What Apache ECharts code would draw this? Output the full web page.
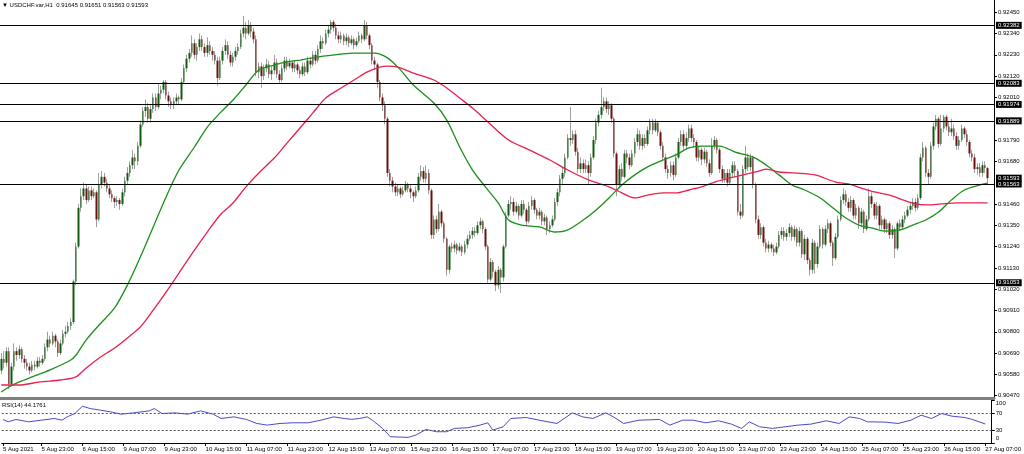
<!DOCTYPE html>
<html><head><meta charset="utf-8">
<script src="https://cdn.jsdelivr.net/npm/echarts@6.0.0/dist/echarts.min.js"></script>
<style>html,body{margin:0;padding:0;background:#fff}#c{width:1024px;height:454px}</style>
</head><body><div id="c"></div>
<script>
const headerText = '\u25BC USDCHF.var,H1  0.91645 0.91651 0.91563 0.91593';
const rsiTitle = 'RSI(14) 44.1761';
const barCount = 386;
const tickBars = [0,15,31,47,63,79,95,111,127,143,159,175,191,207,223,239,255,271,287,303,319,335,351,367,383];
const tickLabels = ['5 Aug 2021','5 Aug 23:00','6 Aug 15:00','9 Aug 07:00','9 Aug 23:00','10 Aug 15:00','11 Aug 07:00','11 Aug 23:00','12 Aug 15:00','13 Aug 07:00','15 Aug 23:00','16 Aug 15:00','17 Aug 07:00','17 Aug 23:00','18 Aug 15:00','19 Aug 07:00','19 Aug 23:00','20 Aug 15:00','23 Aug 07:00','23 Aug 23:00','24 Aug 15:00','25 Aug 07:00','25 Aug 23:00','26 Aug 15:00','27 Aug 07:00'];
const priceTicks = [0.90470,0.90580,0.90690,0.90800,0.90910,0.91020,0.91130,0.91240,0.91350,0.91460,0.91680,0.91790,0.92010,0.92120,0.92230,0.92340,0.92450];
const levels = [0.92382,0.92083,0.91974,0.91889,0.91563,0.91053];
const bidPrice = 0.91593;
const priceMin = 0.90458, priceMax = 0.92513;
// [open, close, low, high] in units of 0.00001
const candles = [
[90600,90660,90580,90690],[90660,90640,90610,90700],[90640,90700,90620,90720],[90700,90530,90505,90720],[90530,90620,90520,90640],
[90620,90700,90600,90740],[90700,90680,90650,90720],[90680,90710,90660,90730],[90710,90660,90640,90720],[90660,90640,90610,90680],
[90640,90620,90600,90660],[90620,90600,90580,90640],[90600,90630,90590,90650],[90630,90620,90600,90650],[90620,90650,90610,90670],
[90650,90640,90620,90670],[90640,90660,90630,90680],[90660,90720,90650,90740],[90720,90760,90700,90800],[90760,90740,90720,90780],
[90740,90780,90730,90800],[90780,90750,90720,90790],[90750,90690,90670,90760],[90690,90740,90680,90760],[90740,90790,90730,90810],
[90790,90800,90770,90830],[90800,90830,90790,90850],[90830,90850,90810,90870],[90850,91060,90840,91070],[91060,91240,91040,91260],
[91240,91440,91230,91460],[91440,91500,91420,91540],[91500,91540,91480,91570],[91540,91480,91460,91560],[91480,91530,91470,91550],
[91530,91500,91480,91550],[91500,91520,91490,91540],[91520,91380,91340,91530],[91380,91560,91370,91620],[91560,91600,91540,91630],
[91600,91570,91550,91620],[91570,91540,91520,91590],[91540,91510,91490,91560],[91510,91490,91470,91530],[91490,91470,91440,91500],
[91470,91480,91450,91500],[91480,91460,91430,91490],[91460,91520,91450,91540],[91520,91580,91500,91600],[91580,91620,91560,91650],
[91620,91660,91600,91680],[91660,91700,91640,91740],[91700,91680,91640,91720],[91680,91760,91660,91780],[91760,91870,91750,91890],
[91870,91940,91860,91960],[91940,91960,91910,92000],[91960,91900,91880,91980],[91900,91950,91880,91970],[91950,92010,91930,92030],
[92010,91960,91940,92030],[91960,92030,91950,92080],[92030,92050,92000,92070],[92050,92090,92030,92100],[92090,92020,92000,92100],
[92020,91990,91960,92040],[91990,91970,91950,92010],[91970,91990,91950,92010],[91990,92010,91970,92030],[92010,92000,91970,92020],
[92000,92090,91990,92110],[92090,92160,92080,92180],[92160,92210,92140,92230],[92210,92240,92190,92260],[92240,92290,92220,92330],
[92290,92230,92210,92310],[92230,92270,92200,92290],[92270,92310,92250,92340],[92310,92270,92250,92330],[92270,92240,92220,92290],
[92240,92280,92220,92320],[92280,92250,92230,92300],[92250,92230,92200,92270],[92230,92200,92180,92250],[92200,92110,92070,92220],
[92110,92200,92100,92220],[92200,92250,92180,92270],[92250,92280,92230,92310],[92280,92230,92210,92300],[92230,92190,92170,92250],
[92190,92220,92170,92240],[92220,92250,92200,92270],[92250,92270,92230,92290],[92270,92340,92260,92360],[92340,92370,92320,92430],
[92370,92340,92310,92400],[92340,92380,92330,92410],[92380,92350,92320,92400],[92350,92310,92290,92370],[92310,92140,92120,92330],
[92140,92170,92110,92190],[92170,92120,92060,92190],[92120,92160,92100,92180],[92160,92180,92140,92210],[92180,92130,92110,92200],
[92130,92150,92100,92170],[92150,92190,92130,92230],[92190,92130,92110,92210],[92130,92100,92080,92150],[92100,92160,92090,92180],
[92160,92200,92140,92220],[92200,92170,92150,92220],[92170,92190,92160,92210],[92190,92160,92140,92200],[92160,92180,92140,92200],
[92180,92150,92130,92190],[92150,92130,92110,92170],[92130,92170,92120,92190],[92170,92140,92120,92190],[92140,92200,92130,92220],
[92200,92180,92160,92220],[92180,92230,92170,92250],[92230,92200,92180,92250],[92200,92260,92190,92280],[92260,92300,92240,92330],
[92300,92290,92260,92320],[92290,92340,92280,92360],[92340,92360,92320,92380],[92360,92400,92340,92410],[92400,92370,92350,92410],
[92370,92330,92310,92390],[92330,92310,92290,92350],[92310,92330,92290,92350],[92330,92300,92280,92340],[92300,92320,92280,92340],
[92320,92290,92270,92330],[92290,92310,92280,92330],[92310,92280,92260,92320],[92280,92300,92270,92320],[92300,92330,92290,92350],
[92330,92310,92290,92340],[92310,92380,92300,92410],[92380,92330,92310,92400],[92330,92280,92260,92340],[92280,92200,92180,92290],
[92200,92180,92150,92220],[92180,92090,92060,92190],[92090,92010,91990,92100],[92010,91970,91940,92030],[91970,91900,91870,91990],
[91900,91620,91600,91910],[91620,91580,91550,91640],[91580,91550,91520,91600],[91550,91520,91500,91570],[91520,91540,91500,91560],
[91540,91510,91490,91550],[91510,91530,91500,91550],[91530,91560,91520,91580],[91560,91540,91520,91570],[91540,91520,91490,91560],
[91520,91500,91470,91530],[91500,91530,91490,91550],[91530,91600,91520,91620],[91600,91630,91580,91660],[91630,91590,91570,91650],
[91590,91620,91570,91660],[91620,91530,91510,91640],[91530,91300,91280,91540],[91300,91380,91280,91400],[91380,91330,91310,91400],
[91330,91420,91320,91460],[91420,91360,91340,91430],[91360,91280,91260,91370],[91280,91120,91090,91290],[91120,91240,91100,91250],
[91240,91230,91210,91260],[91230,91250,91210,91270],[91250,91220,91200,91260],[91220,91240,91210,91260],[91240,91210,91190,91250],
[91210,91250,91200,91270],[91250,91280,91230,91300],[91280,91300,91270,91320],[91300,91320,91280,91340],[91320,91310,91290,91340],
[91310,91350,91300,91370],[91350,91370,91330,91390],[91370,91330,91310,91380],[91330,91240,91220,91340],[91240,91070,91050,91250],
[91070,91160,91060,91180],[91160,91110,91080,91170],[91110,91040,91010,91120],[91040,91120,91020,91140],[91120,91080,91000,91130],
[91080,91240,91060,91250],[91240,91400,91230,91420],[91400,91460,91390,91480],[91460,91470,91430,91500],[91470,91420,91400,91490],
[91420,91450,91410,91470],[91450,91400,91380,91460],[91400,91460,91390,91480],[91460,91430,91410,91480],[91430,91370,91350,91440],
[91370,91450,91360,91470],[91450,91480,91430,91500],[91480,91430,91410,91490],[91430,91400,91380,91440],[91400,91420,91380,91440],
[91420,91370,91350,91430],[91370,91390,91350,91410],[91390,91330,91300,91400],[91330,91350,91310,91370],[91350,91380,91340,91400],
[91380,91470,91370,91490],[91470,91520,91450,91540],[91520,91590,91500,91610],[91590,91620,91560,91650],[91620,91700,91600,91720],
[91700,91800,91690,91820],[91800,91790,91760,91960],[91790,91820,91770,91840],[91820,91730,91710,91840],[91730,91640,91620,91750],
[91640,91670,91620,91700],[91670,91640,91620,91690],[91640,91660,91620,91690],[91660,91620,91560,91680],[91620,91700,91600,91720],
[91700,91790,91690,91810],[91790,91880,91770,91900],[91880,91920,91860,91940],[91920,91960,91900,92060],[91960,91990,91940,92010],
[91990,91950,91930,92010],[91950,91970,91920,91990],[91970,91900,91880,91980],[91900,91720,91700,91910],[91720,91560,91500,91730],
[91560,91640,91540,91660],[91640,91600,91580,91670],[91600,91720,91590,91740],[91720,91700,91670,91740],[91700,91660,91640,91720],
[91660,91720,91650,91740],[91720,91780,91700,91800],[91780,91820,91760,91850],[91820,91760,91740,91840],[91760,91800,91740,91820],
[91800,91770,91750,91820],[91770,91840,91760,91860],[91840,91880,91820,91900],[91880,91840,91820,91900],[91840,91880,91830,91900],
[91880,91830,91810,91890],[91830,91760,91740,91840],[91760,91700,91680,91780],[91700,91640,91620,91720],[91640,91620,91590,91660],
[91620,91660,91600,91680],[91660,91610,91580,91680],[91610,91700,91600,91720],[91700,91780,91690,91800],[91780,91820,91760,91840],
[91820,91760,91740,91840],[91760,91800,91740,91830],[91800,91850,91780,91870],[91850,91800,91780,91870],[91800,91780,91750,91820],
[91780,91700,91680,91790],[91700,91740,91680,91760],[91740,91690,91660,91750],[91690,91730,91670,91750],[91730,91670,91650,91740],
[91670,91620,91600,91690],[91620,91760,91610,91800],[91760,91790,91740,91810],[91790,91740,91720,91800],[91740,91640,91620,91750],
[91640,91590,91570,91660],[91590,91620,91570,91640],[91620,91570,91550,91640],[91570,91620,91560,91640],[91620,91660,91600,91680],
[91660,91630,91600,91680],[91630,91420,91400,91640],[91420,91400,91380,91460],[91400,91640,91390,91660],[91640,91700,91620,91760],
[91700,91650,91630,91720],[91650,91700,91630,91720],[91700,91560,91540,91710],[91560,91380,91360,91570],[91380,91300,91280,91400],
[91300,91340,91280,91360],[91340,91260,91240,91350],[91260,91230,91210,91280],[91230,91250,91210,91270],[91250,91230,91210,91260],
[91230,91210,91190,91250],[91210,91240,91200,91260],[91240,91300,91230,91320],[91300,91320,91280,91340],[91320,91290,91270,91340],
[91290,91310,91270,91330],[91310,91340,91290,91360],[91340,91290,91270,91350],[91290,91330,91270,91350],[91330,91260,91240,91340],
[91260,91320,91240,91340],[91320,91200,91180,91330],[91200,91280,91170,91300],[91280,91170,91150,91290],[91170,91120,91090,91180],
[91120,91260,91100,91280],[91260,91150,91100,91270],[91150,91240,91130,91260],[91240,91330,91230,91350],[91330,91250,91230,91340],
[91250,91330,91240,91350],[91330,91360,91310,91380],[91360,91260,91240,91370],[91260,91180,91140,91270],[91180,91290,91170,91310],
[91290,91380,91280,91400],[91380,91480,91370,91500],[91480,91510,91460,91540],[91510,91470,91450,91530],[91470,91440,91420,91490],
[91440,91480,91420,91500],[91480,91400,91380,91490],[91400,91440,91380,91460],[91440,91360,91330,91450],[91360,91420,91340,91440],
[91420,91330,91310,91430],[91330,91380,91320,91400],[91380,91500,91370,91540],[91500,91460,91440,91520],[91460,91400,91380,91470],
[91400,91450,91380,91470],[91450,91350,91330,91460],[91350,91380,91330,91400],[91380,91330,91310,91390],[91330,91360,91310,91380],
[91360,91300,91280,91370],[91300,91330,91280,91350],[91330,91230,91180,91340],[91230,91360,91220,91370],[91360,91340,91320,91380],
[91340,91380,91330,91400],[91380,91400,91360,91420],[91400,91430,91390,91450],[91430,91450,91410,91470],[91450,91470,91430,91490],
[91470,91440,91420,91490],[91440,91490,91430,91510],[91490,91700,91480,91720],[91700,91750,91680,91780],[91750,91620,91600,91760],
[91620,91600,91560,91640],[91600,91760,91590,91780],[91760,91860,91740,91880],[91860,91900,91840,91920],[91900,91770,91750,91910],
[91770,91850,91760,91920],[91850,91910,91830,91920],[91910,91860,91840,91920],[91860,91830,91810,91890],[91830,91850,91810,91900],
[91850,91810,91790,91870],[91810,91760,91740,91830],[91760,91790,91740,91810],[91790,91850,91780,91870],[91850,91820,91800,91860],
[91820,91780,91760,91840],[91780,91720,91700,91790],[91720,91700,91680,91740],[91700,91640,91620,91720],[91640,91650,91610,91670],
[91650,91620,91600,91670],[91620,91660,91600,91680],[91660,91645,91620,91680],[91645,91593,91563,91651]
];
// moving averages: [bar index, price in 0.00001]
const maFast = [[0,90489],[3,90515],[7,90541],[12,90567],[19,90603],[27,90654],[29,90680],[33,90758],[38,90835],[44,90923],[49,91042],[54,91186],[59,91341],[64,91496],[69,91635],[75,91754],[80,91857],[85,91930],[90,91997],[95,92074],[100,92152],[106,92177],[111,92193],[116,92203],[121,92214],[126,92224],[132,92234],[137,92239],[142,92239],[145,92239],[150,92214],[155,92152],[160,92074],[168,91981],[173,91893],[178,91754],[183,91635],[188,91548],[193,91465],[197,91377],[202,91351],[209,91341],[215,91315],[220,91326],[226,91377],[231,91429],[236,91491],[241,91558],[246,91610],[251,91651],[257,91687],[262,91713],[267,91749],[272,91759],[279,91759],[285,91728],[292,91702],[297,91661],[302,91610],[307,91558],[312,91532],[318,91491],[323,91439],[328,91387],[333,91351],[338,91336],[343,91320],[349,91326],[354,91351],[359,91377],[364,91418],[369,91481],[374,91532],[380,91558],[383,91568]];
const maSlow = [[0,90525],[7,90525],[15,90541],[23,90551],[29,90567],[33,90613],[38,90665],[44,90716],[49,90768],[54,90825],[59,90912],[64,91005],[69,91103],[75,91222],[80,91315],[85,91403],[90,91465],[95,91548],[100,91620],[106,91697],[111,91775],[116,91852],[121,91930],[126,92007],[132,92059],[137,92100],[142,92141],[147,92167],[150,92172],[154,92167],[160,92136],[168,92100],[173,92059],[178,92007],[183,91955],[189,91883],[197,91790],[205,91739],[213,91687],[220,91635],[228,91584],[236,91548],[241,91517],[246,91491],[251,91506],[257,91517],[262,91517],[267,91532],[272,91548],[277,91573],[283,91594],[288,91610],[293,91625],[297,91640],[302,91625],[308,91620],[316,91610],[324,91573],[329,91563],[334,91542],[339,91522],[345,91506],[350,91481],[355,91460],[360,91455],[365,91460],[371,91465],[376,91465],[383,91465]];
// RSI(14): [bar index, value]
const rsi = [[0,54.7],[2,49.3],[5,54.7],[10,49.3],[15,53.1],[20,57],[23,53.1],[25,60.8],[28,68.5],[31,85.5],[34,80.1],[38,76.3],[42,72.4],[46,67],[51,70.1],[57,74.7],[59,80.1],[62,68.5],[67,70.1],[72,67],[77,74.7],[82,67],[85,57],[90,60.8],[95,54.7],[99,45.4],[103,41.6],[108,45.4],[113,47],[119,47],[124,53.1],[129,60.8],[133,57],[136,55],[139,57],[142,60.8],[144,53.1],[148,33.9],[151,14.6],[158,13.1],[161,18.5],[165,31.6],[169,26.2],[173,26.2],[176,33.9],[181,35.4],[186,41.6],[189,47],[191,30],[195,37.7],[198,57],[204,59.3],[209,53.1],[216,45.4],[222,70.1],[226,60.8],[230,57],[235,70.1],[238,60.8],[242,45.4],[248,53.1],[256,54.7],[260,41.6],[265,53.1],[269,53.1],[274,47],[279,51.6],[284,43.9],[288,33.9],[291,49.3],[295,37.7],[300,33.9],[305,37.7],[310,41.6],[315,43.9],[321,51.6],[326,45.4],[330,60.8],[334,57],[337,49.3],[344,48.5],[349,45.4],[354,53.1],[358,64.7],[362,57],[366,68.5],[370,62.4],[375,59.3],[378,54.7],[383,44.18]];
const rsiTicks = [0,30,70,100];
const rsiLevels = [30,70];

const FONT = 'Liberation Sans';
const bull = '#0f5c0f', bear = '#6a1111', wickColor = '#a0a0a0';
const S = 100000;

const cats = [];
for (let i = 0; i < barCount; i++) cats.push('');
tickBars.forEach((b, k) => { cats[b] = tickLabels[k]; });
const isTick = (idx) => cats[idx] !== '';

const ohlc = candles.map(c => [c[0]/S, c[1]/S, c[2]/S, c[3]/S]);
const bodies = candles.map(c => [c[0]/S, c[1]/S, Math.min(c[0],c[1])/S, Math.max(c[0],c[1])/S]);

const chart = echarts.init(document.getElementById('c'), null, {renderer: 'canvas'});
chart.setOption({
  animation: false,
  backgroundColor: '#ffffff',
  textStyle: {fontFamily: FONT},
  graphic: [
    {type: 'text', left: 2, top: 2, style: {text: headerText, font: '6px "Liberation Sans", "DejaVu Sans"', fill: '#000'}},
    {type: 'text', left: 2, top: 402, style: {text: rsiTitle, font: '6px "Liberation Sans", "DejaVu Sans"', fill: '#000'}}
  ],
  grid: [
    {left: 0, right: 30, top: 0, height: 398},
    {left: 0, right: 30, top: 400, height: 43}
  ],
  xAxis: [
    {type: 'category', gridIndex: 0, data: cats, boundaryGap: true,
     axisLine: {show: true, lineStyle: {color: '#7f7f7f', width: 3}},
     axisTick: {show: false}, axisLabel: {show: false}, splitLine: {show: false}},
    {type: 'category', gridIndex: 1, data: cats, boundaryGap: true,
     axisLine: {show: true, lineStyle: {color: '#000', width: 1}},
     axisTick: {show: true, alignWithLabel: true, length: 3, interval: (i) => isTick(i), lineStyle: {color: '#000'}},
     axisLabel: {show: true, interval: (i) => isTick(i), align: 'left', fontSize: 6, fontFamily: FONT, color: '#000', margin: 3},
     splitLine: {show: false}}
  ],
  yAxis: [
    {type: 'value', gridIndex: 0, position: 'right', min: priceMin, max: priceMax,
     axisLine: {show: true, lineStyle: {color: '#000', width: 1}},
     axisTick: {show: true, length: 3, customValues: priceTicks, lineStyle: {color: '#000'}},
     axisLabel: {show: true, customValues: priceTicks, formatter: v => v.toFixed(5), fontSize: 6, fontFamily: FONT, color: '#000', margin: 4},
     splitLine: {show: false}},
    {type: 'value', gridIndex: 1, position: 'right', min: 0, max: 100,
     axisLine: {show: true, lineStyle: {color: '#000', width: 1}},
     axisTick: {show: true, length: 3, customValues: rsiTicks, lineStyle: {color: '#000'}},
     axisLabel: {show: true, customValues: rsiTicks, fontSize: 6, fontFamily: FONT, color: '#000', margin: 4,
       formatter: v => v === 100 ? '{t|100}' : (v === 0 ? '{b|0}' : String(v)),
       rich: {t: {fontSize: 6, fontFamily: FONT, color: '#000', padding: [7,0,0,0]}, b: {fontSize: 6, fontFamily: FONT, color: '#000', padding: [0,0,9,0]}}},
     splitLine: {show: false}}
  ],
  series: [
    {type: 'candlestick', name: 'wicks', xAxisIndex: 0, yAxisIndex: 0, data: ohlc, barWidth: 1, z: 2,
     itemStyle: {color: wickColor, color0: wickColor, borderColor: wickColor, borderColor0: wickColor, borderWidth: 1},
     markLine: {silent: true, symbol: ['none','none'], animation: false, precision: 5,
       lineStyle: {color: '#000', width: 1, type: 'solid'},
       label: {show: true, position: 'end', distance: 2, formatter: p => Number(p.value).toFixed(5),
         backgroundColor: '#000', color: '#fff', fontSize: 6, fontFamily: FONT, padding: [1,2,0,2]},
       data: levels.map(v => ({yAxis: v})).concat([{yAxis: bidPrice, lineStyle: {color: 'rgba(0,0,0,0)', width: 0}}])}},
    {type: 'candlestick', name: 'bodies', xAxisIndex: 0, yAxisIndex: 0, data: bodies, barWidth: 2, z: 3,
     itemStyle: {color: bull, color0: bear, borderColor: bull, borderColor0: bear, borderWidth: 0}},
    {type: 'line', name: 'MA fast', xAxisIndex: 0, yAxisIndex: 0, data: maFast.map(d => [d[0], d[1]/S]),
     showSymbol: false, smooth: 0.3, z: 4, lineStyle: {color: '#1a8f1a', width: 1.3}},
    {type: 'line', name: 'MA slow', xAxisIndex: 0, yAxisIndex: 0, data: maSlow.map(d => [d[0], d[1]/S]),
     showSymbol: false, smooth: 0.3, z: 4, lineStyle: {color: '#e8204f', width: 1.3}},
    {type: 'line', name: 'RSI', xAxisIndex: 1, yAxisIndex: 1, data: rsi, showSymbol: false, z: 4,
     lineStyle: {color: '#4a4ac8', width: 1},
     markLine: {silent: true, symbol: ['none','none'], animation: false, label: {show: false},
       lineStyle: {color: '#555', width: 1, type: [2,2]}, data: rsiLevels.map(v => ({yAxis: v}))}}
  ]
});
</script>
</body></html>
